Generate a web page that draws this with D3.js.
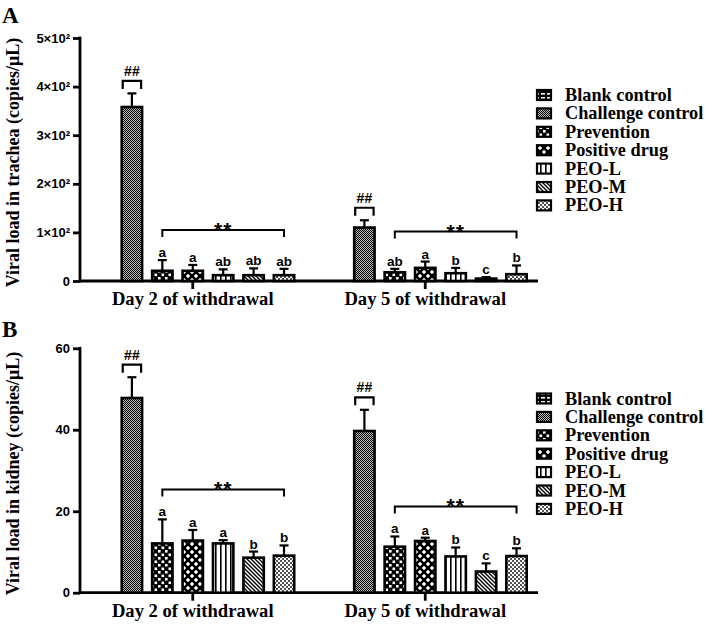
<!DOCTYPE html>
<html><head><meta charset="utf-8">
<script src="https://cdn.jsdelivr.net/npm/d3@7"></script>
<style>body{margin:0;background:#fff}svg{display:block}</style>
</head><body>
<svg id="c" width="708" height="625"></svg>
<script>
const groups = ["Day 2 of withdrawal", "Day 5 of withdrawal"];
const series = ["Blank control","Challenge control","Prevention","Positive drug","PEO-L","PEO-M","PEO-H"];

const tracheaDay2 = [0, 358, 21, 21, 12, 12, 12];
const tracheaDay2Err = [0, 28, 22, 12, 12, 14, 13];
const tracheaDay5 = [0, 110, 18, 27, 16, 5, 14];
const tracheaDay5Err = [0, 15, 7, 13, 11, 3, 18];
const tracheaLetters2 = ["", "", "a", "a", "ab", "ab", "ab"];
const tracheaLetters5 = ["", "", "ab", "a", "b", "c", "b"];
const tracheaTicks = [0, 100, 200, 300, 400, 500];
const tracheaTickLabels = ["0", "1×10²", "2×10²", "3×10²", "4×10²", "5×10²"];

const kidneyDay2 = [0, 47.8, 12.1, 12.8, 12.1, 8.6, 9.1];
const kidneyDay2Err = [0, 5.1, 5.9, 2.6, 0.8, 1.5, 2.5];
const kidneyDay5 = [0, 39.7, 11.3, 12.7, 8.9, 5.2, 9.0];
const kidneyDay5Err = [0, 5.2, 2.5, 0.8, 2.2, 2.0, 1.9];
const kidneyLetters2 = ["", "", "a", "a", "a", "b", "b"];
const kidneyLetters5 = ["", "", "a", "a", "b", "c", "b"];
const kidneyTicks = [0, 20, 40, 60];
const kidneyTickLabels = ["0", "20", "40", "60"];

const SERIF = "'Liberation Serif','Times New Roman',serif";
const SANS = "'Liberation Sans',Arial,sans-serif";

const svg = d3.select("#c");
const defs = svg.append("defs");

function pat(id, w, h, draw) {
  const p = defs.append("pattern").attr("id", id).attr("patternUnits", "userSpaceOnUse")
    .attr("width", w).attr("height", h);
  draw(p);
}
pat("p0", 6, 4, p => {
  p.append("rect").attr("width", 6).attr("height", 4).attr("fill", "#000");
  p.append("rect").attr("x", 1).attr("y", 1).attr("width", 4).attr("height", 1.6).attr("fill", "#fff");
});
pat("p1", 2, 2, p => {
  p.append("rect").attr("width", 2).attr("height", 2).attr("fill", "#bbb");
  p.append("rect").attr("width", 1).attr("height", 1).attr("fill", "#000");
  p.append("rect").attr("x", 1).attr("y", 1).attr("width", 1).attr("height", 1).attr("fill", "#000");
});
pat("p2", 7, 7, p => {
  p.append("rect").attr("width", 7).attr("height", 7).attr("fill", "#000");
  p.append("rect").attr("x", 0.5).attr("y", 0.5).attr("width", 2.6).attr("height", 2.6).attr("fill", "#fff");
  p.append("rect").attr("x", 4).attr("y", 4).attr("width", 2.6).attr("height", 2.6).attr("fill", "#fff");
});
pat("p3", 8, 8, p => {
  p.append("rect").attr("width", 8).attr("height", 8).attr("fill", "#000");
  const dia = (cx, cy) => `M${cx},${cy-2.2}L${cx+2.2},${cy}L${cx},${cy+2.2}L${cx-2.2},${cy}Z`;
  p.append("path").attr("d", dia(4, 4)).attr("fill", "#fff");
  p.append("path").attr("d", dia(0, 0) + dia(8, 0) + dia(0, 8) + dia(8, 8)).attr("fill", "#fff");
});
pat("p4", 5, 5, p => {
  p.append("rect").attr("width", 5).attr("height", 5).attr("fill", "#fff");
  p.append("rect").attr("x", 0).attr("width", 1.6).attr("height", 5).attr("fill", "#000");
});
pat("p5", 4, 4, p => {
  p.append("rect").attr("width", 4).attr("height", 4).attr("fill", "#fff");
  p.append("path").attr("d", "M-1,-1L5,5M-1,3L1,5M3,-1L5,1").attr("stroke", "#000").attr("stroke-width", 1.4);
});
pat("p6", 4, 4, p => {
  p.append("rect").attr("width", 4).attr("height", 4).attr("fill", "#fff");
  p.append("circle").attr("cx", 1).attr("cy", 1).attr("r", 0.9).attr("fill", "#000");
  p.append("circle").attr("cx", 3).attr("cy", 3).attr("r", 0.9).attr("fill", "#000");
});
const fills = series.map((s, i) => `url(#p${i})`);

const x0 = d3.scaleBand().domain(groups).range([80, 538]).paddingInner(0.084).paddingOuter(0.027);
const x1 = d3.scaleBand().domain(series).range([0, x0.bandwidth()]).paddingInner(0.33).paddingOuter(0.165);

function panel(cfg) {
  const g = svg.append("g");
  const y = d3.scaleLinear().domain([0, cfg.max]).range(cfg.yRange);
  const base = y(0);

  g.append("text").attr("x", 2).attr("y", cfg.letterY).text(cfg.letter)
    .attr("font-family", SERIF).attr("font-weight", "bold").attr("font-size", 23);

  g.append("text").attr("transform", `translate(19,${(cfg.yRange[0] + cfg.yRange[1]) / 2 + 3}) rotate(-90)`)
    .attr("text-anchor", "middle").attr("font-family", SERIF).attr("font-weight", "bold")
    .attr("font-size", 18).text(cfg.yTitle);

  const ya = d3.axisLeft(y).tickValues(cfg.ticks).tickFormat((d, i) => cfg.tickLabels[i]).tickSize(7).tickSizeOuter(0).tickPadding(3);
  const yg = g.append("g").attr("transform", "translate(80,0)").call(ya);
  yg.select(".domain").attr("stroke-width", 2.8).attr("d", `M0,${base + 1.4}V${y(cfg.max) - 1.4}`);
  yg.selectAll(".tick line").attr("stroke-width", 2.8);
  yg.selectAll(".tick text").attr("font-family", SANS).attr("font-weight", "bold").attr("font-size", 13).attr("fill", "#000");

  g.append("line").attr("x1", 80).attr("x2", 538).attr("y1", base).attr("y2", base)
    .attr("stroke", "#000").attr("stroke-width", 2.8);
  groups.forEach(gr => {
    const cx = x0(gr) + x0.bandwidth() / 2;
    g.append("line").attr("x1", cx).attr("x2", cx).attr("y1", base).attr("y2", base + 8)
      .attr("stroke", "#000").attr("stroke-width", 2.8);
    g.append("text").attr("x", cx).attr("y", base + 24).attr("text-anchor", "middle")
      .attr("font-family", SERIF).attr("font-weight", "bold").attr("font-size", 18.6).text(gr);
  });

  cfg.data.forEach((d, gi) => {
    const gx = x0(groups[gi]);
    const bw = x1.bandwidth();
    series.forEach((s, i) => {
      const v = d.vals[i], e = d.errs[i];
      if (v <= 0) return;
      const bx = gx + x1(s);
      const cx = bx + bw / 2;
      g.append("line").attr("x1", cx).attr("x2", cx).attr("y1", y(v)).attr("y2", y(v + e))
        .attr("stroke", "#000").attr("stroke-width", 2.2);
      g.append("line").attr("x1", cx - 4.5).attr("x2", cx + 4.5).attr("y1", y(v + e)).attr("y2", y(v + e))
        .attr("stroke", "#000").attr("stroke-width", 2.2);
      g.append("rect").attr("x", bx).attr("y", y(v)).attr("width", bw).attr("height", base - y(v))
        .attr("fill", fills[i]).attr("stroke", "#000").attr("stroke-width", 2.6);
      if (d.letters[i]) {
        g.append("text").attr("x", cx).attr("y", y(v + e) - 3).attr("text-anchor", "middle")
          .attr("font-family", SANS).attr("font-weight", "bold").attr("font-size", 13.5).text(d.letters[i]);
      }
      if (i === 1) {
        const top = y(v + e) - 12.5;
        g.append("path").attr("d", `M${bx + 1},${top + 8}V${top}H${bx + bw - 1}V${top + 8}`)
          .attr("fill", "none").attr("stroke", "#000").attr("stroke-width", 2.2);
        g.append("text").attr("x", cx).attr("y", top - 5).attr("text-anchor", "middle")
          .attr("font-family", SANS).attr("font-weight", "bold").attr("font-size", 14).text("##");
      }
    });
    let maxTop = 0;
    for (let i = 2; i < series.length; i++) maxTop = Math.max(maxTop, d.vals[i] + d.errs[i]);
    const by = y(maxTop) - 30;
    const xa = gx + x1(series[2]) + bw / 2, xb = gx + x1(series[6]) + bw / 2;
    g.append("path").attr("d", `M${xa},${by + 7}V${by}H${xb}V${by + 7}`)
      .attr("fill", "none").attr("stroke", "#000").attr("stroke-width", 2);
    g.append("text").attr("x", (xa + xb) / 2).attr("y", by + 7).attr("text-anchor", "middle")
      .attr("font-family", SANS).attr("font-weight", "bold").attr("font-size", 21).attr("letter-spacing", 1).text("**");
  });

  series.forEach((s, i) => {
    const cy = cfg.legendY + i * 18.4;
    g.append("rect").attr("x", 537).attr("y", cy - 5).attr("width", 14).attr("height", 10)
      .attr("fill", fills[i]).attr("stroke", "#000").attr("stroke-width", 2.2);
    g.append("text").attr("x", 565).attr("y", cy + 6).attr("font-family", SERIF).attr("font-weight", "bold")
      .attr("font-size", 18.3).text(s);
  });
}

panel({
  letter: "A", letterY: 23, max: 500, yRange: [281, 38],
  ticks: tracheaTicks, tickLabels: tracheaTickLabels,
  yTitle: "Viral load in trachea (copies/μL)",
  data: [
    { vals: tracheaDay2, errs: tracheaDay2Err, letters: tracheaLetters2 },
    { vals: tracheaDay5, errs: tracheaDay5Err, letters: tracheaLetters5 }
  ],
  legendY: 95
});
panel({
  letter: "B", letterY: 337, max: 60, yRange: [592.7, 348.3],
  ticks: kidneyTicks, tickLabels: kidneyTickLabels,
  yTitle: "Viral load in kidney (copies/μL)",
  data: [
    { vals: kidneyDay2, errs: kidneyDay2Err, letters: kidneyLetters2 },
    { vals: kidneyDay5, errs: kidneyDay5Err, letters: kidneyLetters5 }
  ],
  legendY: 398.5
});
</script>
</body></html>
